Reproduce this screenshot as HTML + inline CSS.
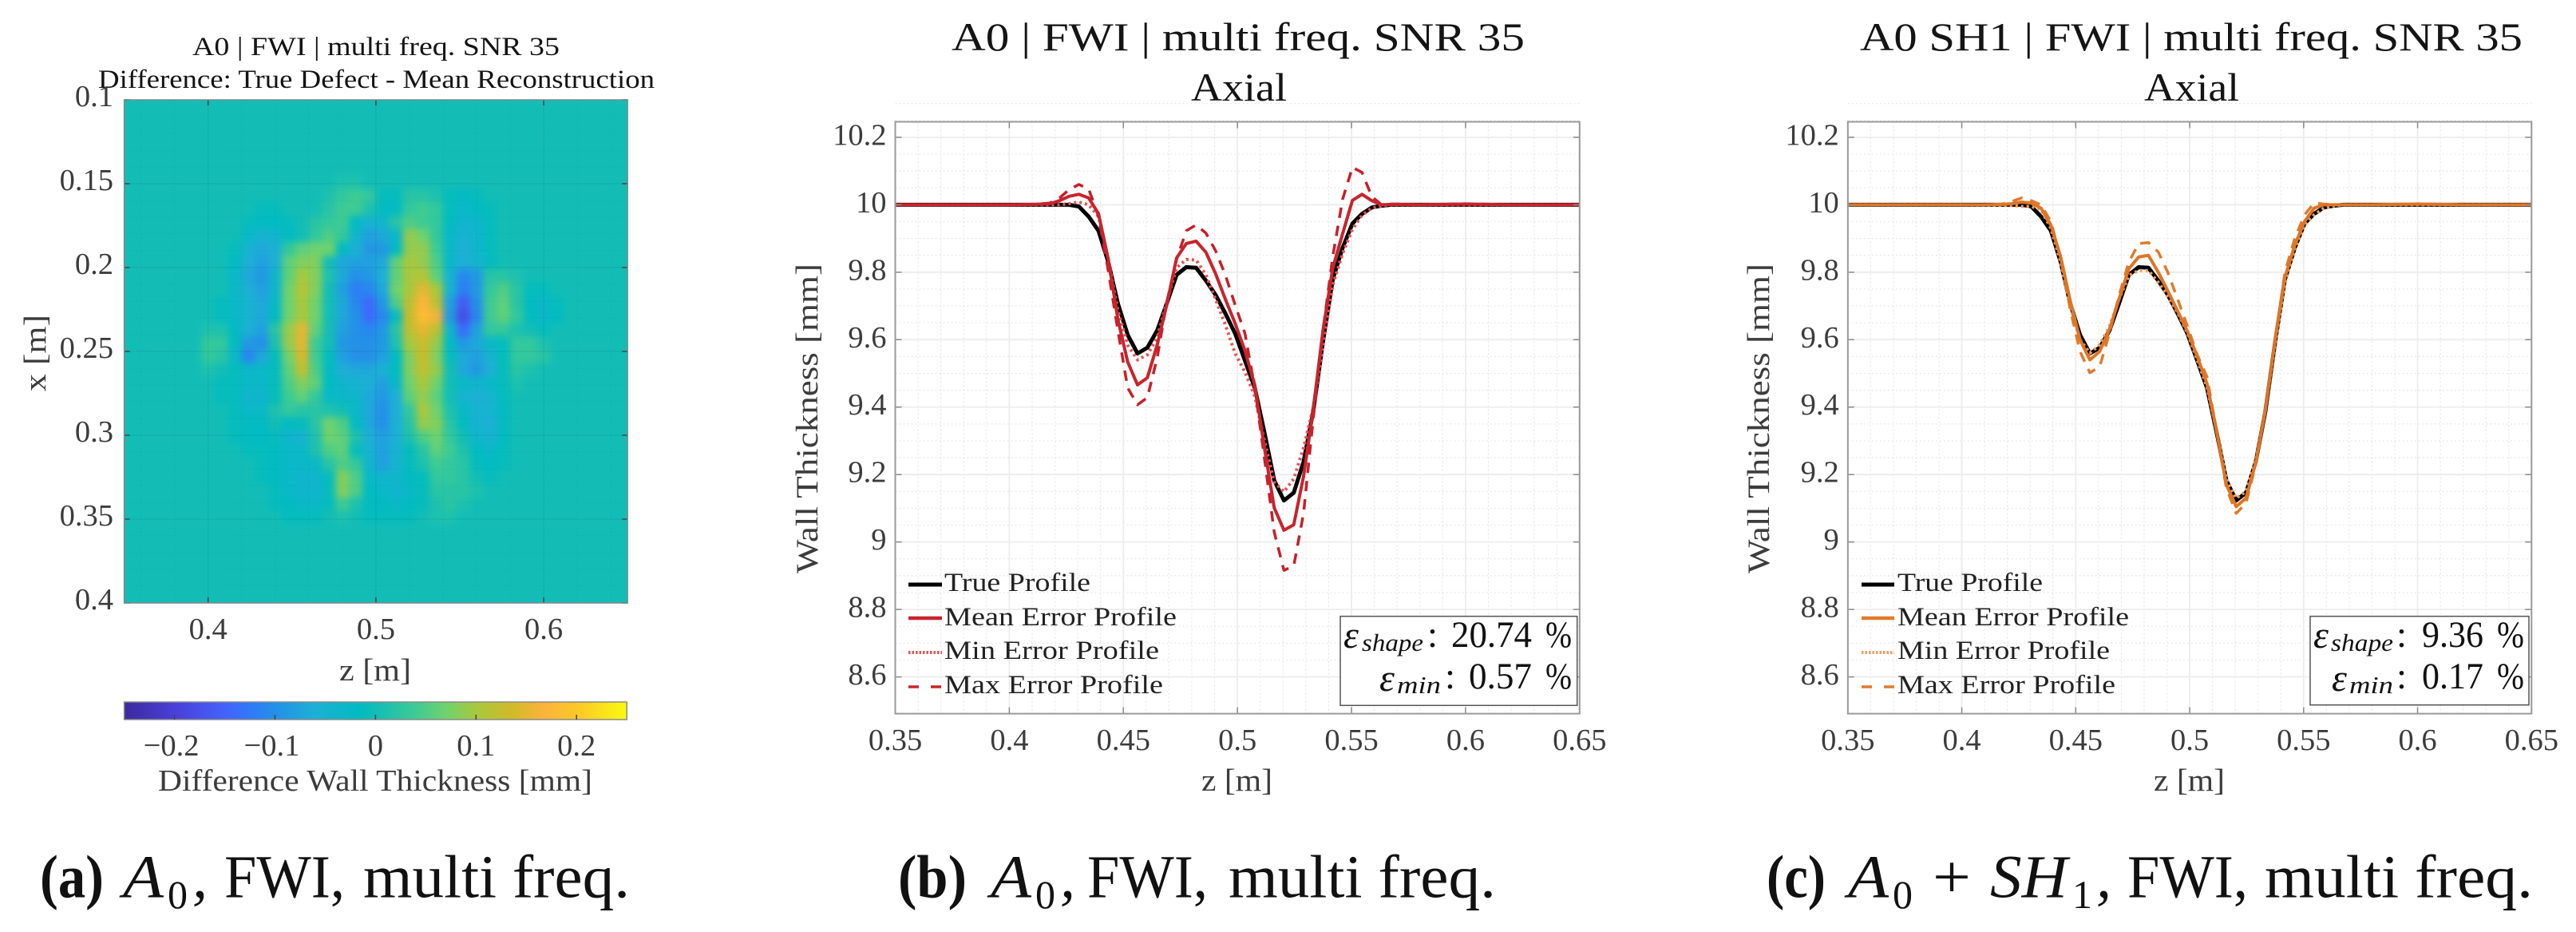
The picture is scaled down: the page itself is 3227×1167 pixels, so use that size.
<!DOCTYPE html>
<html lang="en">
<head>
<meta charset="utf-8">
<title>A0 and SH1 FWI wall thickness reconstruction</title>
<style>
html,body{margin:0;padding:0;background:#fff;}
svg{display:block;}
text{font-family:"Liberation Serif",serif;}
.tt{fill:#141414;}
.ax{fill:#3c3c3c;}
.leg{fill:#222;font-size:33px;}
.cap{fill:#111;font-size:76px;}
.st{fill:#111;}
</style>
</head>
<body>
<svg id="fig" xmlns="http://www.w3.org/2000/svg" width="3227" height="1167" viewBox="0 0 3227 1167">
  <defs>
    <clipPath id="clipA"><rect x="155.6" y="125" width="630.6" height="630"/></clipPath>
    <clipPath id="clipB"><rect x="1121.5" y="152.5" width="857.3" height="741.1"/></clipPath>
    <clipPath id="clipC"><rect x="2314.8" y="152.5" width="856.5" height="741.1"/></clipPath>
    <filter id="soft" filterUnits="userSpaceOnUse" x="100" y="70" width="740" height="740" color-interpolation-filters="sRGB">
      <feGaussianBlur stdDeviation="4.5"/>
    </filter>
    <linearGradient id="cbarGrad" x1="0" x2="1" y1="0" y2="0"></linearGradient>
  </defs>
  <rect width="3227" height="1167" fill="#fff"/>

  <!-- Panel A -->
  <g>
    <text class="tt" x="241" y="69" font-size="33" textLength="460" lengthAdjust="spacingAndGlyphs">A0 | FWI | multi freq. SNR 35</text>
    <text class="tt" x="123" y="110" font-size="33" textLength="697" lengthAdjust="spacingAndGlyphs">Difference: True Defect - Mean Reconstruction</text>
    <g id="heatClip" clip-path="url(#clipA)"><g id="heatCells" filter="url(#soft)"></g></g>
    <g id="axesA"></g>
    <text class="ax" x="425" y="852" font-size="39" textLength="90" lengthAdjust="spacingAndGlyphs">z [m]</text>
    <text class="ax" transform="translate(57,490) rotate(-90)" font-size="39" textLength="96" lengthAdjust="spacingAndGlyphs">x [m]</text>
    <rect x="155.6" y="879" width="629.6" height="22" fill="url(#cbarGrad)" stroke="#8a8a8a" stroke-width="1.5"/>
    <g id="cbarTicks"></g>
    <text class="ax" x="198" y="990" font-size="38" textLength="544" lengthAdjust="spacingAndGlyphs">Difference Wall Thickness [mm]</text>
  </g>

  <!-- Panel B -->
  <g>
    <text class="tt" x="1192" y="63" font-size="50" textLength="718" lengthAdjust="spacingAndGlyphs">A0 | FWI | multi freq. SNR 35</text>
    <text class="tt" x="1492" y="126" font-size="50" textLength="120" lengthAdjust="spacingAndGlyphs">Axial</text>
    <g id="gridB"></g>
    <g id="linesB" clip-path="url(#clipB)"></g>
    <g id="axesB"></g>
    <text class="ax" x="1505" y="990" font-size="39" textLength="89" lengthAdjust="spacingAndGlyphs">z [m]</text>
    <text class="ax" transform="translate(1024,718) rotate(-90)" font-size="39" textLength="388" lengthAdjust="spacingAndGlyphs">Wall Thickness [mm]</text>
    <g>
      <line x1="1138" x2="1180" y1="732" y2="732" stroke="#000" stroke-width="5"/>
      <text class="leg" x="1183" y="740" textLength="183" lengthAdjust="spacingAndGlyphs">True Profile</text>
      <line x1="1138" x2="1180" y1="774" y2="774" stroke="#c8242c" stroke-width="4.5"/>
      <text class="leg" x="1183" y="783" textLength="291" lengthAdjust="spacingAndGlyphs">Mean Error Profile</text>
      <line x1="1138" x2="1180" y1="817" y2="817" stroke="#e25557" stroke-width="4" stroke-dasharray="2.5 2"/>
      <text class="leg" x="1183" y="825" textLength="269" lengthAdjust="spacingAndGlyphs">Min Error Profile</text>
      <line x1="1138" x2="1180" y1="860" y2="860" stroke="#c8242c" stroke-width="3.5" stroke-dasharray="13 15"/>
      <text class="leg" x="1183" y="868" textLength="274" lengthAdjust="spacingAndGlyphs">Max Error Profile</text>
    </g>
    <g>
      <rect x="1679" y="771.7" width="296.7" height="111.6" fill="#fff" stroke="#555" stroke-width="1.5"/>
      <text class="st" x="1683" y="811" font-size="48" font-style="italic">ε</text>
      <text class="st" x="1706" y="815" font-size="31" font-style="italic" textLength="77" lengthAdjust="spacingAndGlyphs">shape</text>
      <text class="st" x="1788" y="810" font-size="47">:</text>
      <text class="st" x="1818" y="810" font-size="47" textLength="101" lengthAdjust="spacingAndGlyphs">20.74</text>
      <text class="st" x="1936" y="810" font-size="47" textLength="33" lengthAdjust="spacingAndGlyphs">%</text>
      <text class="st" x="1728" y="865" font-size="48" font-style="italic">ε</text>
      <text class="st" x="1750" y="868" font-size="31" font-style="italic" textLength="55" lengthAdjust="spacingAndGlyphs">min</text>
      <text class="st" x="1810" y="862" font-size="47">:</text>
      <text class="st" x="1840" y="862" font-size="47" textLength="79" lengthAdjust="spacingAndGlyphs">0.57</text>
      <text class="st" x="1936" y="862" font-size="47" textLength="33" lengthAdjust="spacingAndGlyphs">%</text>
    </g>
  </g>

  <!-- Panel C -->
  <g>
    <text class="tt" x="2330" y="63" font-size="50" textLength="830" lengthAdjust="spacingAndGlyphs">A0 SH1 | FWI | multi freq. SNR 35</text>
    <text class="tt" x="2686" y="126" font-size="50" textLength="119" lengthAdjust="spacingAndGlyphs">Axial</text>
    <g id="gridC"></g>
    <g id="linesC" clip-path="url(#clipC)"></g>
    <g id="axesC"></g>
    <text class="ax" x="2698" y="990" font-size="39" textLength="89" lengthAdjust="spacingAndGlyphs">z [m]</text>
    <text class="ax" transform="translate(2216,718) rotate(-90)" font-size="39" textLength="388" lengthAdjust="spacingAndGlyphs">Wall Thickness [mm]</text>
    <g>
      <line x1="2332" x2="2373" y1="732" y2="732" stroke="#000" stroke-width="5"/>
      <text class="leg" x="2377" y="740" textLength="182" lengthAdjust="spacingAndGlyphs">True Profile</text>
      <line x1="2332" x2="2373" y1="774" y2="774" stroke="#e07a2c" stroke-width="4.5"/>
      <text class="leg" x="2377" y="783" textLength="290" lengthAdjust="spacingAndGlyphs">Mean Error Profile</text>
      <line x1="2332" x2="2373" y1="817" y2="817" stroke="#eb9f63" stroke-width="4" stroke-dasharray="2.5 2"/>
      <text class="leg" x="2377" y="825" textLength="266" lengthAdjust="spacingAndGlyphs">Min Error Profile</text>
      <line x1="2332" x2="2373" y1="860" y2="860" stroke="#e07a2c" stroke-width="3.5" stroke-dasharray="13 15"/>
      <text class="leg" x="2377" y="868" textLength="273" lengthAdjust="spacingAndGlyphs">Max Error Profile</text>
    </g>
    <g>
      <rect x="2894" y="771.7" width="274" height="111" fill="#fff" stroke="#555" stroke-width="1.5"/>
      <text class="st" x="2898" y="811" font-size="48" font-style="italic">ε</text>
      <text class="st" x="2920" y="815" font-size="31" font-style="italic" textLength="78" lengthAdjust="spacingAndGlyphs">shape</text>
      <text class="st" x="3002" y="810" font-size="47">:</text>
      <text class="st" x="3034" y="810" font-size="47" textLength="77" lengthAdjust="spacingAndGlyphs">9.36</text>
      <text class="st" x="3128" y="810" font-size="47" textLength="34" lengthAdjust="spacingAndGlyphs">%</text>
      <text class="st" x="2921" y="865" font-size="48" font-style="italic">ε</text>
      <text class="st" x="2943" y="868" font-size="31" font-style="italic" textLength="55" lengthAdjust="spacingAndGlyphs">min</text>
      <text class="st" x="3002" y="862" font-size="47">:</text>
      <text class="st" x="3034" y="862" font-size="47" textLength="77" lengthAdjust="spacingAndGlyphs">0.17</text>
      <text class="st" x="3128" y="862" font-size="47" textLength="34" lengthAdjust="spacingAndGlyphs">%</text>
    </g>
  </g>

  <!-- Captions -->
  <g>
    <text class="cap" x="50" y="1123.5" font-weight="bold" textLength="80" lengthAdjust="spacingAndGlyphs">(a)</text>
    <text class="cap" x="154" y="1123.5" font-style="italic" textLength="51" lengthAdjust="spacingAndGlyphs">A</text>
    <text class="cap" x="210" y="1137" style="font-size:50px" textLength="25" lengthAdjust="spacingAndGlyphs">0</text>
    <text class="cap" x="241" y="1123.5" font-style="italic">,</text>
    <text class="cap" x="281" y="1123.5" textLength="151" lengthAdjust="spacingAndGlyphs">FWI,</text>
    <text class="cap" x="455" y="1123.5" textLength="334" lengthAdjust="spacingAndGlyphs">multi freq.</text>
  </g>
  <g>
    <text class="cap" x="1125" y="1123.5" font-weight="bold" textLength="86" lengthAdjust="spacingAndGlyphs">(b)</text>
    <text class="cap" x="1241" y="1123.5" font-style="italic" textLength="51" lengthAdjust="spacingAndGlyphs">A</text>
    <text class="cap" x="1297" y="1137" style="font-size:50px" textLength="25" lengthAdjust="spacingAndGlyphs">0</text>
    <text class="cap" x="1328" y="1123.5" font-style="italic">,</text>
    <text class="cap" x="1362" y="1123.5" textLength="151" lengthAdjust="spacingAndGlyphs">FWI,</text>
    <text class="cap" x="1539" y="1123.5" textLength="335" lengthAdjust="spacingAndGlyphs">multi freq.</text>
  </g>
  <g>
    <text class="cap" x="2213" y="1123.5" font-weight="bold" textLength="74" lengthAdjust="spacingAndGlyphs">(c)</text>
    <text class="cap" x="2315" y="1123.5" font-style="italic" textLength="51" lengthAdjust="spacingAndGlyphs">A</text>
    <text class="cap" x="2371" y="1137" style="font-size:50px" textLength="25" lengthAdjust="spacingAndGlyphs">0</text>
    <text class="cap" x="2421" y="1123.5" textLength="48" lengthAdjust="spacingAndGlyphs">+</text>
    <text class="cap" x="2493" y="1123.5" font-style="italic" textLength="97" lengthAdjust="spacingAndGlyphs">SH</text>
    <text class="cap" x="2596" y="1137" style="font-size:50px" textLength="25" lengthAdjust="spacingAndGlyphs">1</text>
    <text class="cap" x="2626" y="1123.5" font-style="italic">,</text>
    <text class="cap" x="2665" y="1123.5" textLength="151" lengthAdjust="spacingAndGlyphs">FWI,</text>
    <text class="cap" x="2837" y="1123.5" textLength="336" lengthAdjust="spacingAndGlyphs">multi freq.</text>
  </g>
</svg>

<script>
// ---------- Profile chart data (z in m, thickness in mm) ----------
const zGrid = [0.35,0.38,0.40,0.41,0.4177,0.4220,0.4262,0.4305,0.4348,0.4391,0.4434,0.4476,0.4519,0.4562,0.4605,0.4648,0.4690,0.4733,0.4776,0.4819,0.4862,0.4904,0.4947,0.4990,0.5033,0.5076,0.5118,0.5161,0.5204,0.5247,0.5290,0.5332,0.5375,0.5418,0.5461,0.5504,0.5546,0.5589,0.5632,0.5675,0.5718,0.58,0.60,0.62,0.65];
const trueProfile = [10,10,10,10,10,10,10,9.995,9.965,9.923,9.830,9.707,9.614,9.559,9.576,9.627,9.707,9.792,9.815,9.813,9.775,9.733,9.678,9.618,9.538,9.457,9.326,9.183,9.123,9.146,9.238,9.386,9.593,9.779,9.872,9.944,9.973,9.992,9.997,10,10,10,10,10,10];
const a0Mean = [10,10,10,10.001,10.003,10.012,10.025,10.031,10.020,9.974,9.838,9.660,9.534,9.466,9.487,9.584,9.703,9.842,9.885,9.892,9.859,9.796,9.720,9.648,9.567,9.466,9.280,9.102,9.035,9.051,9.195,9.390,9.627,9.813,9.914,10.013,10.031,10.012,10,10.001,10.001,10,10.002,10,10];
const a0Min = [10,10,10,10,10,10,10.003,10.008,10,9.965,9.838,9.686,9.584,9.540,9.555,9.605,9.711,9.813,9.838,9.836,9.792,9.720,9.644,9.559,9.504,9.432,9.301,9.178,9.149,9.187,9.280,9.398,9.584,9.762,9.855,9.927,9.969,9.990,9.997,10,10,10,10,10,10];
const a0Max = [10,10,10,10.001,10.005,10.02,10.045,10.06,10.047,9.965,9.804,9.627,9.457,9.407,9.428,9.546,9.711,9.838,9.923,9.940,9.916,9.864,9.792,9.703,9.618,9.457,9.250,9.030,8.916,8.929,9.085,9.364,9.627,9.847,10.016,10.111,10.096,10.024,10,10.002,10.002,10,10.003,10,10];
const sh1Mean = [10,10,10,10,10.001,10.003,10.008,10.005,9.99,9.94,9.845,9.715,9.60,9.54,9.565,9.63,9.72,9.81,9.845,9.85,9.80,9.745,9.685,9.625,9.55,9.47,9.33,9.17,9.105,9.13,9.235,9.39,9.60,9.785,9.88,9.95,9.99,10,10,10,10,10,10.002,10,10];
const sh1Min = [10,10,10,9.999,9.998,9.998,9.995,9.995,9.985,9.93,9.83,9.70,9.60,9.56,9.585,9.64,9.72,9.79,9.805,9.805,9.77,9.73,9.68,9.62,9.54,9.46,9.33,9.185,9.13,9.15,9.24,9.39,9.59,9.77,9.87,9.94,9.97,9.99,9.997,10,10,10,10,10,10];
const sh1Max = [10,10,10,10,10.002,10.01,10.02,10.012,10,9.95,9.84,9.69,9.565,9.502,9.52,9.62,9.73,9.83,9.885,9.888,9.86,9.80,9.72,9.64,9.555,9.49,9.33,9.16,9.085,9.115,9.23,9.39,9.60,9.80,9.90,9.97,10.005,10.002,10,10,10,10,10.003,10,10];
const zTicks = [0.35,0.40,0.45,0.50,0.55,0.60,0.65];
const zTickLabels = ['0.35','0.4','0.45','0.5','0.55','0.6','0.65'];
const thicknessTicks = [10.2,10,9.8,9.6,9.4,9.2,9,8.8,8.6];
const thicknessTickLabels = ['10.2','10','9.8','9.6','9.4','9.2','9','8.8','8.6'];

// ---------- Heatmap data: difference in hundredths of a mm ----------
const heatZStart = 0.38;
const heatXStart = 0.145;
const heatStep = 0.008;
const heatValues = [
[0,0,0,0,0,0,0,0,0,0,0,0,1,1,0,0,0,0,0,0,0,0,0,0,0,0,0,0,0,0],
[0,0,0,0,0,0,0,0,0,0,0,1,3,4,3,-1,-1,2,2,1,-1,-2,-1,0,0,0,0,0,0,0],
[0,0,0,0,0,0,-1,-1,0,0,0,2,4,4,1,-2,-2,3,4,3,-1,-3,-2,-1,0,0,0,0,0,0],
[0,0,0,0,0,-1,-2,-2,-1,0,2,3,4,-2,-5,-4,2,5,4,3,-2,-4,-4,-1,0,0,0,0,0,0],
[0,0,0,0,0,-3,-5,-4,-2,0,3,5,3,-4,-8,-7,-3,9,7,3,-3,-5,-4,-1,0,0,0,0,0,0],
[0,0,0,0,-1,-5,-7,-6,3,6,7,7,-2,-6,-9,-9,-2,9,9,4,-3,-6,-4,-1,0,0,0,0,0,0],
[0,0,0,0,-2,-6,-8,-6,6,8,8,0,-7,-8,-8,-7,6,10,9,5,-3,-6,-5,-2,0,0,0,0,0,0],
[0,0,0,0,-3,-7,-9,-4,6,10,8,1,-7,-10,-9,-6,6,10,11,6,-5,-11,-9,2,2,1,0,0,0,0],
[0,0,0,0,-3,-6,-8,-4,7,11,8,0,-8,-12,-11,-7,7,10,15,10,-5,-12,-9,3,5,2,-1,-1,0,0],
[0,0,0,-1,-3,-5,-7,-3,7,10,7,0,-7,-11,-14,-9,5,12,17,12,-8,-16,-10,4,6,2,-2,-3,-1,0],
[0,0,0,-1,-3,-5,-7,-2,7,10,7,0,-7,-10,-14,-11,-1,13,18,16,-9,-18,-11,4,6,3,-2,-3,-2,0],
[0,0,1,1,-2,-6,-8,2,9,15,6,0,-8,-10,-11,-9,2,12,15,12,-4,-14,-8,3,3,1,0,-1,0,0],
[0,0,3,3,-2,-9,-10,1,9,15,4,0,-9,-10,-10,-9,1,10,13,9,-2,-9,-7,-3,-1,3,3,1,0,0],
[0,0,3,2,-3,-11,-7,-1,7,14,4,-1,-8,-10,-10,-8,-2,8,13,8,-1,-7,-8,-5,-1,3,3,2,0,0],
[0,0,1,0,-1,-3,-3,-1,6,12,5,-2,-6,-7,-7,-6,-2,8,12,9,0,-7,-9,-6,-1,2,1,0,0,0],
[0,0,0,-1,-1,-3,-3,-1,5,8,6,-2,-4,-5,-6,-8,-3,7,10,7,0,-3,-4,-3,-1,1,0,0,0,0],
[0,0,0,-1,-1,-4,-4,-1,4,6,3,-3,-3,-4,-7,-9,-6,6,9,6,0,-5,-6,-5,-1,0,0,0,0,0],
[0,0,0,0,-1,-3,-3,1,3,2,2,1,0,-3,-7,-10,-6,3,10,7,1,-3,-5,-5,-2,0,0,0,0,0],
[0,0,0,0,-1,-2,-2,0,-2,-1,2,7,5,-2,-7,-10,-6,2,9,8,2,-2,-5,-6,-2,0,0,0,0,0],
[0,0,0,0,-1,-2,-2,-1,-4,-5,1,7,6,1,-6,-8,-6,1,5,7,3,0,-4,-5,-2,0,0,0,0,0],
[0,0,0,0,0,-1,-1,-2,-3,-3,1,5,6,-1,-5,-8,-5,-1,2,6,4,1,-2,-3,-1,0,0,0,0,0],
[0,0,0,0,0,0,-1,-2,-3,-3,-3,2,5,3,-4,-8,-5,-1,1,4,3,2,-1,-2,-1,0,0,0,0,0],
[0,0,0,0,0,0,-1,-2,-3,-4,-4,-1,8,5,-3,-4,-4,-2,-1,3,3,2,0,-1,0,0,0,0,0,0],
[0,0,0,0,0,0,0,-1,-3,-4,-4,-1,8,5,-2,-3,-4,-3,-1,2,2,2,1,0,0,0,0,0,0,0],
[0,0,0,0,0,0,0,-1,-2,-3,-3,-1,4,1,-2,-2,-3,-2,-1,1,2,1,0,0,0,0,0,0,0,0],
[0,0,0,0,0,0,0,0,-1,-1,-1,0,1,0,-1,-1,-1,-1,0,1,1,0,0,0,0,0,0,0,0,0],
[0,0,0,0,0,0,0,0,0,0,0,0,0,0,0,0,0,0,0,0,0,0,0,0,0,0,0,0,0,0],
[0,0,0,0,0,0,0,0,0,0,0,0,0,0,0,0,0,0,0,0,0,0,0,0,0,0,0,0,0,0]
];
const heatZTicks = [0.4,0.5,0.6];
const heatZTickLabels = ['0.4','0.5','0.6'];
const heatXTicks = [0.1,0.15,0.2,0.25,0.3,0.35,0.4];
const heatXTickLabels = ['0.1','0.15','0.2','0.25','0.3','0.35','0.4'];
const colorbarTicks = [-0.2,-0.1,0,0.1,0.2];
const colorbarTickLabels = ['\u22120.2','\u22120.1','0','0.1','0.2'];
const colormap = [[-0.25,'#3c2a9e'],[-0.2,'#4a3fd8'],[-0.15,'#4462fa'],[-0.125,'#2f79fa'],[-0.1,'#2490e8'],[-0.06,'#1db0d5'],[-0.015,'#00bcc0'],[0,'#13bdb6'],[0.04,'#3ecb94'],[0.07,'#6fd26e'],[0.1,'#a8c83f'],[0.135,'#cfba2a'],[0.168,'#fdb33c'],[0.2,'#fcc728'],[0.25,'#f9fa10']];

const NS = 'http://www.w3.org/2000/svg';
function make(tag, attrs, parent) {
  const el = document.createElementNS(NS, tag);
  for (const k in attrs) el.setAttribute(k, attrs[k]);
  parent.appendChild(el);
  return el;
}
function hexToRgb(h) { return [parseInt(h.slice(1,3),16), parseInt(h.slice(3,5),16), parseInt(h.slice(5,7),16)]; }
function colorFor(v) {
  if (v <= colormap[0][0]) return colormap[0][1];
  for (let i = 1; i < colormap.length; i++) {
    if (v <= colormap[i][0]) {
      const t = (v - colormap[i-1][0]) / (colormap[i][0] - colormap[i-1][0]);
      const a = hexToRgb(colormap[i-1][1]);
      const b = hexToRgb(colormap[i][1]);
      return 'rgb(' + a.map((c, n) => Math.round(c + (b[n] - c) * t)).join(',') + ')';
    }
  }
  return colormap[colormap.length - 1][1];
}

// ---------- Panel A ----------
const A = {left:155.6, right:786.2, top:125, bottom:755};
const aX = z => A.left + (z - 0.35) / 0.3 * (A.right - A.left);
const aY = x => A.top + (x - 0.1) / 0.3 * (A.bottom - A.top);
const cbX = v => 155.6 + (v + 0.25) / 0.5 * 629.6;

(function drawHeat() {
  const g = document.getElementById('heatCells');
  const bg = make('rect', {x:100, y:70, width:740, height:740, fill:colorFor(0)}, g);
  
  
  heatValues.forEach((row, j) => {
    row.forEach((val, i) => {
      const z0 = heatZStart + i * heatStep;
      const x0 = heatXStart + j * heatStep;
      const cell = make('rect', {x:aX(z0), y:aY(x0), width:aX(z0 + heatStep) - aX(z0) + 0.5, height:aY(x0 + heatStep) - aY(x0) + 0.5, fill:colorFor(val / 100)}, g);
      
      
    });
  });
  const ov = document.getElementById('axesA');
  for (let k = 0; k <= 14; k++) {
    const z = 0.36 + k * 0.02;
    const ln = make('line', {x1:aX(z), x2:aX(z), y1:A.top, y2:A.bottom, stroke:'rgba(0,0,0,0.04)', 'stroke-width':1.2, 'stroke-dasharray':'2 2'}, ov);
    
    
  }
  for (let k = 1; k < 30; k++) {
    const x = 0.1 + k * 0.01;
    const ln = make('line', {x1:A.left, x2:A.right, y1:aY(x), y2:aY(x), stroke:'rgba(0,0,0,0.035)', 'stroke-width':1.2, 'stroke-dasharray':'2 3'}, ov);
    
    
  }
  heatZTicks.forEach((t, i) => {
    const gl = make('line', {x1:aX(t), x2:aX(t), y1:A.top, y2:A.bottom, stroke:'rgba(0,0,0,0.05)', 'stroke-width':1.2}, ov);
    
    
    const tk = make('path', {d:'M' + aX(t) + ' ' + A.bottom + 'v-7M' + aX(t) + ' ' + A.top + 'v7', stroke:'#444', 'stroke-width':1.5, fill:'none'}, ov);
    
    
    const lb = make('text', {x:aX(t), y:800, 'text-anchor':'middle', 'font-size':38.5, class:'ax'}, ov);
    
    
    lb.textContent = heatZTickLabels[i];
  });
  heatXTicks.forEach((t, i) => {
    const gl = make('line', {x1:A.left, x2:A.right, y1:aY(t), y2:aY(t), stroke:'rgba(0,0,0,0.05)', 'stroke-width':1.2}, ov);
    
    
    const tk = make('path', {d:'M' + A.left + ' ' + aY(t) + 'h7M' + A.right + ' ' + aY(t) + 'h-7', stroke:'#444', 'stroke-width':1.5, fill:'none'}, ov);
    
    
    const lb = make('text', {x:142, y:aY(t) + 8, 'text-anchor':'end', 'font-size':38.5, class:'ax'}, ov);
    
    
    lb.textContent = heatXTickLabels[i];
  });
  const frame = make('rect', {x:A.left, y:A.top, width:A.right - A.left, height:A.bottom - A.top, fill:'none', stroke:'#7e8a8a', 'stroke-width':1.5}, ov);
  
  

  const grad = document.getElementById('cbarGrad');
  colormap.forEach(s => {
    make('stop', {offset:((s[0] + 0.25) / 0.5 * 100) + '%', 'stop-color':s[1]}, grad);
  });
  const ct = document.getElementById('cbarTicks');
  colorbarTicks.forEach((t, i) => {
    const tk = make('line', {x1:cbX(t), x2:cbX(t), y1:901, y2:895, stroke:'#444', 'stroke-width':1.5}, ct);
    
    
    const lb = make('text', {x:cbX(t) - (t < 0 ? 4 : 0), y:946, 'text-anchor':'middle', 'font-size':38.5, class:'ax'}, ct);
    
    
    lb.textContent = colorbarTickLabels[i];
  });
})();

// ---------- Panels B and C ----------
function drawProfile(cfg) {
  const L = cfg.left, R = cfg.right, T = 152.5, B = 893.6;
  const xS = z => L + (z - 0.35) / 0.3 * (R - L);
  const yS = v => T + (10.246 - v) * ((B - T) / 1.755);
  const grid = document.getElementById(cfg.grid);
  const axes = document.getElementById(cfg.axes);
  const lines = document.getElementById(cfg.lines);

  for (let k = 1; k < 30; k++) {
    if (k % 5 === 0) continue;
    const z = 0.35 + k * 0.01;
    const m = make('line', {x1:xS(z), x2:xS(z), y1:T, y2:B, stroke:'#e6e6e6', 'stroke-width':1.2, 'stroke-dasharray':'2 3'}, grid);
    
    
  }
  for (let k = 0; k < 35; k++) {
    if (k % 4 === 0) continue;
    const v = 8.6 + k * 0.05;
    const m = make('line', {x1:L, x2:R, y1:yS(v), y2:yS(v), stroke:'#e6e6e6', 'stroke-width':1.2, 'stroke-dasharray':'2 3'}, grid);
    
    
  }
  zTicks.forEach(t => {
    const m = make('line', {x1:xS(t), x2:xS(t), y1:T, y2:B, stroke:'#ececec', 'stroke-width':1.8}, grid);
    
    
  });
  thicknessTicks.forEach(t => {
    const m = make('line', {x1:L, x2:R, y1:yS(t), y2:yS(t), stroke:'#ececec', 'stroke-width':1.8}, grid);
    
    
  });

  cfg.series.forEach(s => {
    const d = zGrid.map((z, i) => (i ? 'L' : 'M') + xS(z).toFixed(1) + ' ' + yS(s.values[i]).toFixed(1)).join('');
    const p = make('path', {d:d, fill:'none', stroke:s.color, 'stroke-width':s.width, 'stroke-linejoin':'round', 'stroke-dasharray':s.dash || 'none', opacity:s.opacity || 1}, lines);
    
    
  });

  zTicks.forEach((t, i) => {
    const tk = make('path', {d:'M' + xS(t) + ' ' + B + 'v-8M' + xS(t) + ' ' + T + 'v8', stroke:'#8a8a8a', 'stroke-width':1.5, fill:'none'}, axes);
    
    
    const lb = make('text', {x:xS(t), y:939, 'text-anchor':'middle', 'font-size':38.5, class:'ax'}, axes);
    
    
    lb.textContent = zTickLabels[i];
  });
  thicknessTicks.forEach((t, i) => {
    const tk = make('path', {d:'M' + L + ' ' + yS(t) + 'h8M' + R + ' ' + yS(t) + 'h-8', stroke:'#8a8a8a', 'stroke-width':1.5, fill:'none'}, axes);
    
    
    const lb = make('text', {x:L - 11, y:yS(t) + 9.5, 'text-anchor':'end', 'font-size':38.5, class:'ax'}, axes);
    
    
    lb.textContent = thicknessTickLabels[i];
  });
  const frame = make('rect', {x:L, y:T, width:R - L, height:B - T, fill:'none', stroke:'#9a9a9a', 'stroke-width':2}, axes);
  
  
}

drawProfile({
  left:1121.5, right:1978.8, grid:'gridB', axes:'axesB', lines:'linesB',
  series:[
    {name:'true-profile-line', values:trueProfile, color:'#000', width:5},
    {name:'min-error-profile-line', values:a0Min, color:'#e25557', width:4, dash:'3 4'},
    {name:'max-error-profile-line', values:a0Max, color:'#c5202a', width:3.5, dash:'13 10'},
    {name:'mean-error-profile-line', values:a0Mean, color:'#c8242c', width:4}
  ]
});
drawProfile({
  left:2314.8, right:3171.3, grid:'gridC', axes:'axesC', lines:'linesC',
  series:[
    {name:'true-profile-line', values:trueProfile, color:'#000', width:5},
    {name:'min-error-profile-line', values:sh1Min, color:'#eb9f63', width:4, dash:'3 4'},
    {name:'max-error-profile-line', values:sh1Max, color:'#e07a2c', width:3.5, dash:'13 10'},
    {name:'mean-error-profile-line', values:sh1Mean, color:'#de7526', width:4}
  ]
});
</script>
</body>
</html>
